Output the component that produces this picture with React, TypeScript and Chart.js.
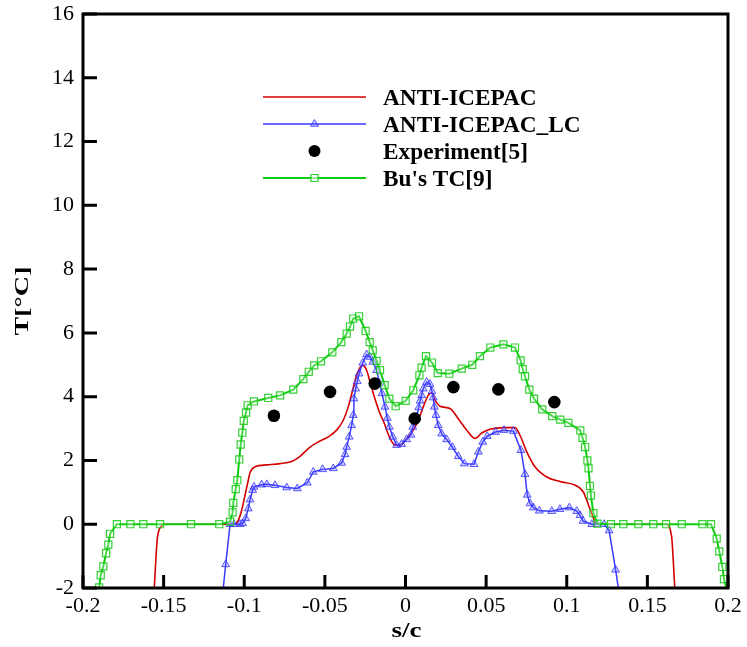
import React, { useEffect, useRef } from 'react';
import { Chart, registerables } from 'chart.js';

Chart.register(...registerables);

// ---------- data ----------
const xTicks = [-0.2, -0.15, -0.1, -0.05, 0, 0.05, 0.1, 0.15, 0.2];
const yTicks = [-2, 0, 2, 4, 6, 8, 10, 12, 14, 16];

const seriesNames = ['ANTI-ICEPAC', 'ANTI-ICEPAC_LC', 'Experiment[5]', "Bu's TC[9]"];
const xTitle = 's/c';
const yTitle = 'T[°C]';

const redX = [-0.1558, -0.1539, -0.1512, -0.150, -0.106, -0.1037, -0.1016, -0.0995, -0.0975, -0.0964, -0.0933, -0.0861, -0.0778, -0.0706, -0.0654, -0.0592, -0.0541, -0.0479, -0.0427, -0.0386, -0.0355, -0.0328, -0.0303, -0.0268, -0.0241, -0.022, -0.0193, -0.0162, -0.0133, -0.0096, -0.0065, -0.0034, 0.0007, 0.0048, 0.008, 0.011, 0.0141, 0.0162, 0.0183, 0.0214, 0.0276, 0.0327, 0.038, 0.0431, 0.0473, 0.0524, 0.0607, 0.0679, 0.071, 0.0752, 0.0803, 0.0876, 0.0958, 0.1062, 0.1103, 0.1124, 0.1155, 0.1186, 0.1616, 0.165, 0.167];
const redY = [-2, -0.45, -0.05, 0, 0, 0.12, 0.44, 0.91, 1.38, 1.62, 1.8, 1.86, 1.9, 1.97, 2.13, 2.42, 2.58, 2.74, 2.95, 3.26, 3.68, 4.2, 4.67, 4.98, 4.83, 4.46, 3.99, 3.52, 3.18, 2.69, 2.48, 2.48, 2.68, 2.95, 3.26, 3.68, 4.04, 4.12, 3.89, 3.7, 3.63, 3.31, 2.95, 2.69, 2.86, 2.98, 3.03, 3.03, 2.79, 2.27, 1.8, 1.48, 1.34, 1.2, 1.01, 0.75, 0.34, 0, 0, -0.38, -2];

const blueX = [-0.113, -0.1115, -0.1088, -0.1064, -0.1026, -0.101, -0.0991, -0.0975, -0.0964, -0.0948, -0.094, -0.0892, -0.086, -0.0809, -0.0737, -0.0671, -0.0609, -0.0572, -0.0514, -0.0448, -0.0396, -0.0375, -0.0365, -0.0349, -0.0334, -0.0324, -0.032, -0.0309, -0.0299, -0.0288, -0.0265, -0.0241, -0.022, -0.0203, -0.0179, -0.0162, -0.0146, -0.0127, -0.0113, -0.01, -0.0079, -0.0055, -0.0024, 0.0007, 0.0034, 0.0045, 0.0069, 0.0082, 0.009, 0.01, 0.011, 0.0131, 0.0152, 0.0164, 0.0172, 0.0179, 0.0189, 0.0203, 0.0224, 0.0255, 0.029, 0.0327, 0.0365, 0.0425, 0.0452, 0.0479, 0.0507, 0.0559, 0.0611, 0.0669, 0.0716, 0.0741, 0.0755, 0.0772, 0.0793, 0.083, 0.0907, 0.0958, 0.1016, 0.1062, 0.1082, 0.1101, 0.1155, 0.1186, 0.1232, 0.1263, 0.1303, 0.132];
const blueY = [-2, -1.26, 0, 0, 0, 0.03, 0.18, 0.49, 0.77, 1.07, 1.17, 1.24, 1.25, 1.22, 1.15, 1.12, 1.3, 1.64, 1.72, 1.75, 1.92, 2.19, 2.42, 2.74, 3.1, 3.42, 3.94, 4.25, 4.48, 4.72, 5.06, 5.32, 5.24, 5.09, 4.83, 4.43, 4.1, 3.68, 3.33, 3.05, 2.74, 2.48, 2.51, 2.66, 2.8, 3.05, 3.36, 3.66, 3.87, 4.04, 4.25, 4.46, 4.39, 4.17, 3.97, 3.68, 3.42, 3.1, 2.84, 2.66, 2.42, 2.13, 1.9, 1.88, 2.27, 2.58, 2.76, 2.89, 2.95, 2.92, 2.32, 1.57, 0.92, 0.65, 0.52, 0.42, 0.41, 0.47, 0.52, 0.41, 0.28, 0.1, 0, 0, 0, -0.2, -1.43, -2];

const expX = [-0.0816, -0.0468, -0.0191, 0.0057, 0.0297, 0.0576, 0.0923];
const expY = [3.4, 4.15, 4.41, 3.31, 4.3, 4.23, 3.83];

const greenX = [-0.19, -0.189, -0.1874, -0.1857, -0.1843, -0.1832, -0.179, -0.1706, -0.1626, -0.1522, -0.133, -0.1155, -0.1088, -0.1072, -0.1068, -0.1053, -0.1043, -0.1031, -0.1022, -0.1012, -0.1003, -0.0989, -0.0979, -0.094, -0.0851, -0.0778, -0.0696, -0.0634, -0.06, -0.0566, -0.0524, -0.0454, -0.0398, -0.0365, -0.0344, -0.0324, -0.0288, -0.0247, -0.0222, -0.0203, -0.0179, -0.0158, -0.0129, -0.01, -0.0061, 0.0001, 0.0048, 0.0086, 0.01, 0.0127, 0.0164, 0.02, 0.0272, 0.0349, 0.0414, 0.0462, 0.0526, 0.0607, 0.0679, 0.0714, 0.0727, 0.0741, 0.0768, 0.0797, 0.0848, 0.091, 0.096, 0.101, 0.1084, 0.1098, 0.1114, 0.1128, 0.1135, 0.1144, 0.115, 0.1165, 0.119, 0.1274, 0.1351, 0.1444, 0.1537, 0.1616, 0.1713, 0.1841, 0.1895, 0.193, 0.1946, 0.1965, 0.1975, 0.199];
const greenY = [-1.98, -1.6, -1.32, -0.91, -0.64, -0.3, 0, 0, 0, 0, 0, 0, 0.08, 0.37, 0.67, 1.1, 1.38, 2.03, 2.5, 2.87, 3.24, 3.5, 3.73, 3.85, 3.96, 4.04, 4.22, 4.55, 4.78, 4.98, 5.11, 5.39, 5.71, 5.98, 6.2, 6.45, 6.52, 6.06, 5.71, 5.45, 5.12, 4.83, 4.36, 3.94, 3.7, 3.87, 4.2, 4.67, 4.91, 5.27, 5.07, 4.74, 4.72, 4.88, 5.0, 5.27, 5.54, 5.64, 5.54, 5.14, 4.86, 4.64, 4.22, 3.94, 3.6, 3.39, 3.28, 3.18, 2.94, 2.71, 2.42, 2.0, 1.75, 1.2, 0.9, 0.35, 0.02, 0, 0, 0, 0, 0, 0, 0, 0, -0.45, -0.85, -1.34, -1.72, -2];

// ---------- styling ----------
const RED = '#d40000';
const BLUE = '#3a3aff';
const GREEN = '#10cc10';
const FONT = "'Liberation Serif', 'Times New Roman', Times, serif";

const zip = (xs: number[], ys: number[]) => xs.map((x, i) => ({ x, y: ys[i] }));

const hideAtFloor = (ctx: any) => {
  const v = ctx.raw;
  return v && v.y <= -2 ? 0 : undefined;
};

const framePlugin = {
  id: 'frame',
  afterDatasetsDraw(chart: any) {
    const { ctx, chartArea: a, scales } = chart;
    ctx.save();
    ctx.strokeStyle = '#000';
    ctx.lineWidth = 3;
    ctx.lineCap = 'butt';
    ctx.beginPath();
    ctx.rect(a.left, a.top, a.right - a.left, a.bottom - a.top);
    ctx.stroke();
    ctx.beginPath();
    yTicks.forEach((v) => {
      const y = scales.y.getPixelForValue(v);
      ctx.moveTo(a.left, y);
      ctx.lineTo(a.left + 14, y);
    });
    xTicks.forEach((v) => {
      const x = scales.x.getPixelForValue(v);
      ctx.moveTo(x, a.bottom);
      ctx.lineTo(x, a.bottom - 13);
    });
    ctx.stroke();
    ctx.restore();
  },
};

const titlePlugin = {
  id: 'axisTitles',
  afterDraw(chart: any) {
    const { ctx, chartArea: a } = chart;
    ctx.save();
    ctx.fillStyle = '#000';
    ctx.textAlign = 'center';
    ctx.textBaseline = 'alphabetic';
    // x title (horizontally stretched like the original)
    ctx.font = `bold 21px ${FONT}`;
    const wx = ctx.measureText(xTitle).width;
    ctx.save();
    ctx.translate((a.left + a.right) / 2 + 1, 637);
    ctx.scale(30 / wx, 1);
    ctx.fillText(xTitle, 0, 0);
    ctx.restore();
    // y title (rotated, stretched along its length)
    ctx.font = `bold 19px ${FONT}`;
    const wy = ctx.measureText(yTitle).width;
    ctx.save();
    ctx.translate(28, (a.top + a.bottom) / 2);
    ctx.rotate(-Math.PI / 2);
    ctx.scale(69 / wy, 1);
    ctx.fillText(yTitle, 0, 0);
    ctx.restore();
    ctx.restore();
  },
};

const legendPlugin = {
  id: 'customLegend',
  afterDraw(chart: any) {
    const { ctx } = chart;
    const x0 = 263, x1 = 366, xm = 314.5, tx = 383;
    const rows = [97, 124, 151, 178];
    ctx.save();
    ctx.lineWidth = 1.6;
    ctx.strokeStyle = RED;
    ctx.beginPath(); ctx.moveTo(x0, rows[0]); ctx.lineTo(x1, rows[0]); ctx.stroke();
    ctx.lineWidth = 1.5;
    ctx.strokeStyle = BLUE;
    ctx.beginPath(); ctx.moveTo(x0, rows[1]); ctx.lineTo(x1, rows[1]); ctx.stroke();
    {
      const r = 4.5;
      const cy = rows[1];
      ctx.beginPath();
      ctx.moveTo(xm, cy - r);
      ctx.lineTo(xm + r * 0.866, cy + r * 0.5);
      ctx.lineTo(xm - r * 0.866, cy + r * 0.5);
      ctx.closePath();
      ctx.fillStyle = 'rgba(90,90,255,0.3)';
      ctx.fill();
      ctx.lineWidth = 1;
      ctx.strokeStyle = 'rgba(50,50,255,0.85)';
      ctx.stroke();
    }
    ctx.fillStyle = '#000';
    ctx.beginPath(); ctx.arc(xm, rows[2], 6, 0, Math.PI * 2); ctx.fill();
    ctx.lineWidth = 2;
    ctx.strokeStyle = GREEN;
    ctx.beginPath(); ctx.moveTo(x0, rows[3]); ctx.lineTo(x1, rows[3]); ctx.stroke();
    ctx.lineWidth = 1.2;
    ctx.strokeStyle = 'rgba(20,200,20,0.9)';
    ctx.fillStyle = 'rgba(255,255,255,0.6)';
    ctx.beginPath(); ctx.rect(xm - 3.5, rows[3] - 3.5, 7, 7); ctx.fill(); ctx.stroke();
    ctx.fillStyle = '#000';
    ctx.font = `bold 23.3px ${FONT}`;
    ctx.textAlign = 'left';
    ctx.textBaseline = 'alphabetic';
    seriesNames.forEach((name, i) => {
      ctx.fillText(name, tx, rows[i] + 7.8);
    });
    ctx.restore();
  },
};

export default function App() {
  const ref = useRef<HTMLCanvasElement | null>(null);

  useEffect(() => {
    document.body.style.margin = '0';
    const canvas = ref.current;
    if (!canvas) return;
    const chart = new Chart(canvas, {
      type: 'scatter',
      data: {
        datasets: [
          {
            label: seriesNames[2],
            data: zip(expX, expY),
            showLine: false,
            pointStyle: 'circle',
            pointRadius: 6.3,
            pointBackgroundColor: '#000',
            pointBorderColor: '#000',
            pointBorderWidth: 0,
            order: 0,
          },
          {
            label: seriesNames[3],
            data: zip(greenX, greenY),
            showLine: true,
            borderColor: GREEN,
            borderWidth: 2,
            pointStyle: 'rect',
            pointRadius: (c: any) => hideAtFloor(c) ?? 5,
            pointBackgroundColor: 'rgba(255,255,255,0.25)',
            pointBorderColor: 'rgba(20,200,20,0.85)',
            pointBorderWidth: 1.2,
            order: 1,
          },
          {
            label: seriesNames[1],
            data: zip(blueX, blueY),
            showLine: true,
            borderColor: BLUE,
            borderWidth: 1.5,
            pointStyle: 'triangle',
            pointRadius: (c: any) => hideAtFloor(c) ?? 4.5,
            pointBackgroundColor: 'rgba(90,90,255,0.25)',
            pointBorderColor: 'rgba(50,50,255,0.8)',
            pointBorderWidth: 1,
            order: 2,
          },
          {
            label: seriesNames[0],
            data: zip(redX, redY),
            showLine: true,
            borderColor: RED,
            borderWidth: 1.6,
            pointRadius: 0,
            cubicInterpolationMode: 'monotone',
            order: 3,
          },
        ],
      },
      options: {
        animation: false,
        responsive: false,
        devicePixelRatio: 1,
        events: [],
        layout: { padding: { top: 14, right: 19, left: 0, bottom: 0 } },
        plugins: {
          legend: { display: false },
          tooltip: { enabled: false },
        },
        scales: {
          x: {
            type: 'linear',
            min: -0.2,
            max: 0.2,
            grid: { display: false, drawTicks: false },
            border: { display: false },
            afterBuildTicks: (scale: any) => {
              scale.ticks = xTicks.map((v) => ({ value: v }));
            },
            afterFit: (scale: any) => {
              scale.height = 59;
              scale.paddingLeft = 0;
              scale.paddingRight = 0;
            },
            ticks: {
              color: '#000',
              padding: 5,
              maxRotation: 0,
              autoSkip: false,
              font: { family: FONT, size: 22 },
              callback: (v: any) => String(Math.round(Number(v) * 100) / 100),
            },
            title: { display: false },
          },
          y: {
            type: 'linear',
            min: -2,
            max: 16,
            grid: { display: false, drawTicks: false },
            border: { display: false },
            afterBuildTicks: (scale: any) => {
              scale.ticks = yTicks.map((v) => ({ value: v }));
            },
            afterFit: (scale: any) => {
              scale.width = 83;
              scale.paddingTop = 0;
              scale.paddingBottom = 0;
            },
            ticks: {
              color: '#000',
              padding: 9,
              autoSkip: false,
              font: { family: FONT, size: 22 },
              callback: (v: any) => String(v),
            },
            title: { display: false },
          },
        },
      },
      plugins: [framePlugin, titlePlugin, legendPlugin],
    } as any);
    return () => chart.destroy();
  }, []);

  return (
    <div style={{ width: 747, height: 647, background: '#fff' }}>
      <canvas ref={ref} width={747} height={647} style={{ display: 'block', width: 747, height: 647 }} />
    </div>
  );
}
